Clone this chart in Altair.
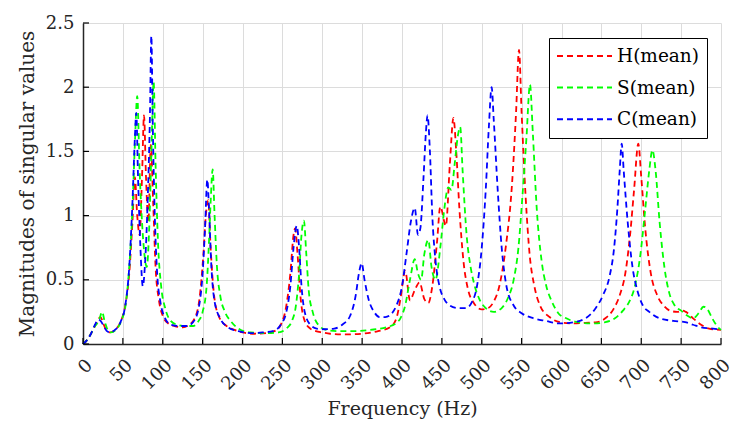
import altair as alt
import pandas as pd

# ---- data ----
h_freq = [0, 5, 10, 15, 20, 22, 26, 30, 34, 40, 47, 53, 58, 62, 65, 68, 71, 74, 76.5, 79, 82, 85, 88, 91, 95,
          100, 107, 115, 125, 133, 140, 146, 151, 154, 157, 160, 164, 170, 180, 190, 200, 215, 230, 240, 248,
          255, 260, 264, 266, 269, 273, 278, 285, 292, 300, 310, 330, 350, 370, 385, 393, 398, 404, 410, 416,
          422, 428, 433, 438, 444, 448, 455, 460, 464.5, 468, 472, 477, 483, 490, 500, 508, 515, 522, 530, 538,
          543, 546.7, 550, 555, 560, 566, 573, 585, 598, 615, 630, 645, 655, 665, 673, 680, 686, 691, 696.3,
          700, 705, 712, 720, 728, 736, 745, 752, 756, 765, 775, 785, 800]
h_vals = [0.0, 0.03, 0.08, 0.14, 0.2, 0.21, 0.15, 0.1, 0.09, 0.11, 0.17, 0.3, 0.55, 0.95, 1.3, 1.0, 0.85, 1.3,
          1.78, 1.3, 0.95, 1.55, 1.1, 0.6, 0.35, 0.22, 0.16, 0.14, 0.13, 0.15, 0.2, 0.35, 0.7, 1.0, 1.12, 0.75,
          0.4, 0.22, 0.14, 0.11, 0.09, 0.08, 0.085, 0.1, 0.15, 0.3, 0.55, 0.85, 0.9, 0.7, 0.35, 0.18, 0.12,
          0.1, 0.09, 0.08, 0.075, 0.08, 0.1, 0.13, 0.2, 0.35, 0.57, 0.34, 0.42, 0.48, 0.35, 0.32, 0.45, 0.8,
          1.07, 0.92, 1.4, 1.76, 1.5, 1.05, 0.65, 0.42, 0.32, 0.27, 0.28, 0.33, 0.45, 0.75, 1.25, 1.8, 2.29,
          1.8, 1.15, 0.7, 0.45, 0.3, 0.21, 0.17, 0.16, 0.165, 0.17, 0.2, 0.27, 0.38, 0.55, 0.85, 1.2, 1.56,
          1.3, 0.9, 0.55, 0.38, 0.3, 0.26, 0.25, 0.26, 0.25, 0.2, 0.15, 0.12, 0.11]

s_freq = [0, 5, 10, 15, 20, 24, 27, 31, 35, 41, 48, 54, 58, 62, 65, 68, 71, 74, 77, 80, 83, 86, 88.6, 91, 94,
          98, 103, 110, 118, 128, 138, 145, 150, 155, 158, 160, 162.6, 165, 168, 172, 178, 185, 195, 210, 230,
          245, 255, 262, 267, 271, 274, 277, 280, 283, 288, 295, 305, 320, 340, 360, 380, 392, 398, 404, 410,
          416, 420, 424, 428, 433, 437, 442, 448, 453, 458, 462, 466, 470, 473, 476, 481, 486, 490, 497, 505,
          515, 525, 533, 540, 546, 551, 556, 560.5, 564, 569, 575, 581, 588, 596, 606, 620, 640, 655, 667, 677,
          685, 692, 699, 705, 710, 714, 718, 723, 729, 735, 742, 750, 758, 765, 772, 778, 783, 789, 795, 800]
s_vals = [0.0, 0.03, 0.08, 0.14, 0.18, 0.25, 0.18, 0.11, 0.09, 0.11, 0.18, 0.33, 0.6, 1.05, 1.55, 1.93, 1.35,
          0.95, 0.7, 0.6, 0.9, 1.55, 2.04, 1.4, 0.8, 0.45, 0.28, 0.18, 0.15, 0.14, 0.14, 0.18, 0.25, 0.45, 0.8,
          1.1, 1.36, 1.0, 0.6, 0.38, 0.25, 0.18, 0.12, 0.09, 0.085, 0.09, 0.12, 0.18, 0.3, 0.55, 0.85, 0.96,
          0.7, 0.42, 0.25, 0.15, 0.11, 0.1, 0.1, 0.11, 0.13, 0.16, 0.2, 0.3, 0.5, 0.66, 0.55, 0.5, 0.7, 0.81,
          0.6, 0.5, 0.75, 1.05, 1.22, 1.2, 1.4, 1.62, 1.69, 1.35, 0.85, 0.6, 0.48, 0.35, 0.28, 0.25, 0.28,
          0.36, 0.5, 0.75, 1.15, 1.6, 2.02, 1.65, 1.05, 0.65, 0.45, 0.33, 0.24, 0.2, 0.17, 0.16, 0.17, 0.2,
          0.26, 0.33, 0.45, 0.7, 1.05, 1.35, 1.51, 1.35, 0.95, 0.6, 0.4, 0.3, 0.26, 0.22, 0.2, 0.24, 0.29,
          0.27, 0.2, 0.14, 0.11]

c_freq = [0, 5, 10, 15, 19, 22, 26, 30, 34, 40, 47, 53, 58, 62, 65, 66.8, 69, 72, 75, 78, 81, 84, 85.7, 87.5,
          90, 93, 97, 103, 110, 120, 130, 138, 145, 150, 153, 155.9, 158, 161, 165, 172, 182, 195, 210, 225,
          238, 248, 255, 260, 264, 268, 271, 274, 278, 285, 293, 303, 315, 325, 335, 342, 346, 349.4, 353,
          358, 365, 372, 379, 386, 393, 400, 406, 411, 416, 420, 423, 427, 430, 432, 435, 438, 442, 447, 453,
          460, 470, 480, 488, 494, 500, 505, 509, 512.4, 515, 520, 525, 531, 540, 550, 565, 580, 598, 615, 630,
          643, 652, 660, 666, 670, 673, 675.5, 678, 683, 689, 695, 702, 710, 723, 740, 755, 765, 775, 790, 800]
c_vals = [0.0, 0.03, 0.08, 0.15, 0.19, 0.18, 0.14, 0.1, 0.09, 0.11, 0.17, 0.3, 0.6, 1.1, 1.6, 1.8, 1.3, 0.75,
          0.45, 0.65, 1.1, 1.8, 2.4, 1.7, 1.0, 0.55, 0.33, 0.2, 0.15, 0.14, 0.14, 0.17, 0.28, 0.55, 0.9, 1.28,
          1.05, 0.6, 0.33, 0.2, 0.13, 0.1, 0.085, 0.09, 0.1, 0.15, 0.25, 0.45, 0.75, 0.92, 0.75, 0.45, 0.25,
          0.15, 0.12, 0.115, 0.12, 0.15, 0.22, 0.38, 0.55, 0.63, 0.5, 0.35, 0.25, 0.21, 0.21, 0.23, 0.3, 0.45,
          0.72, 0.95, 1.06, 0.85, 0.9, 1.3, 1.65, 1.78, 1.5, 1.0, 0.65, 0.45, 0.35, 0.3, 0.28, 0.28, 0.33,
          0.45, 0.75, 1.2, 1.7, 2.0, 1.75, 1.2, 0.75, 0.45, 0.3, 0.24, 0.2, 0.18, 0.16, 0.17, 0.2, 0.28, 0.38,
          0.52, 0.75, 1.05, 1.35, 1.56, 1.35, 0.95, 0.6, 0.42, 0.3, 0.25, 0.2, 0.18, 0.17, 0.15, 0.13, 0.12,
          0.11]

series_names = ["H(mean)", "S(mean)", "C(mean)"]
series_colors = ["#ff0000", "#00ff00", "#0000ff"]
x_ticks = list(range(0, 801, 50))
y_ticks = [0, 0.5, 1, 1.5, 2, 2.5]

rows = []
for name, fr, vals in zip(series_names, [h_freq, s_freq, c_freq], [h_vals, s_vals, c_vals]):
    for i, (f, v) in enumerate(zip(fr, vals)):
        rows.append({"series": name, "freq": f, "mag": v, "idx": i})
df = pd.DataFrame(rows)

FONT = "DejaVu Serif"
W, H = 638, 321

x_scale = alt.Scale(domain=[0, 800], nice=False)
y_scale = alt.Scale(domain=[0, 2.5], nice=False)

x_axis = alt.Axis(values=x_ticks, title="Frequency (Hz)", labelAngle=-45, labelAlign="right",
                  labelBaseline="top", labelPadding=12, titlePadding=6, labelOverlap=False,
                  labelFlush=False, labelBound=False, format="d", tickCount=17)
y_axis = alt.Axis(values=y_ticks, title="Magnitudes of singular values", labelPadding=9,
                  titlePadding=8, format="~g", labelOverlap=False, labelFlush=False,
                  titleFontSize=20)

lines = alt.Chart(df).mark_line(strokeDash=[6, 4], strokeWidth=1.8, interpolate="monotone").encode(
    x=alt.X("freq:Q", scale=x_scale, axis=x_axis),
    y=alt.Y("mag:Q", scale=y_scale, axis=y_axis),
    color=alt.Color("series:N", scale=alt.Scale(domain=series_names, range=series_colors),
                    legend=alt.Legend(title=None, orient="none", legendX=466, legendY=15,
                                      symbolType="stroke", symbolSize=3025, symbolStrokeWidth=2,
                                      symbolDash=[6, 4], clipHeight=22, rowPadding=9.6, padding=7,
                                      labelFontSize=18.5, labelFont=FONT, labelColor="black",
                                      labelOffset=4, strokeColor="black", fillColor="white")),
    order="idx:Q",
)

xt = pd.DataFrame({"freq": x_ticks})
yt = pd.DataFrame({"mag": y_ticks})
xticks = alt.Chart(xt).mark_rule(color="black", strokeWidth=1.2).encode(
    x=alt.X("freq:Q", scale=x_scale, axis=x_axis), y=alt.value(H), y2=alt.value(H - 6))
yticks = alt.Chart(yt).mark_rule(color="black", strokeWidth=1.2).encode(
    y=alt.Y("mag:Q", scale=y_scale, axis=y_axis), x=alt.value(0), x2=alt.value(6))

chart = alt.layer(lines, xticks, yticks).properties(
    width=W, height=H,
    autosize=alt.AutoSizeParams(type="none"),
    padding={"left": 83, "top": 23, "right": 13, "bottom": 82},
    background="white",
).configure_view(stroke=None).configure_axis(
    labelFont=FONT, titleFont=FONT, labelFontSize=18, titleFontSize=19,
    labelColor="#262626", titleColor="#262626", titleFontWeight="normal",
    domainColor="#262626", domainWidth=1.5, ticks=False,
    gridColor="#dcdcdc", gridWidth=1,
)

chart.save("out.html", embed_options={"renderer": "svg", "actions": False})
